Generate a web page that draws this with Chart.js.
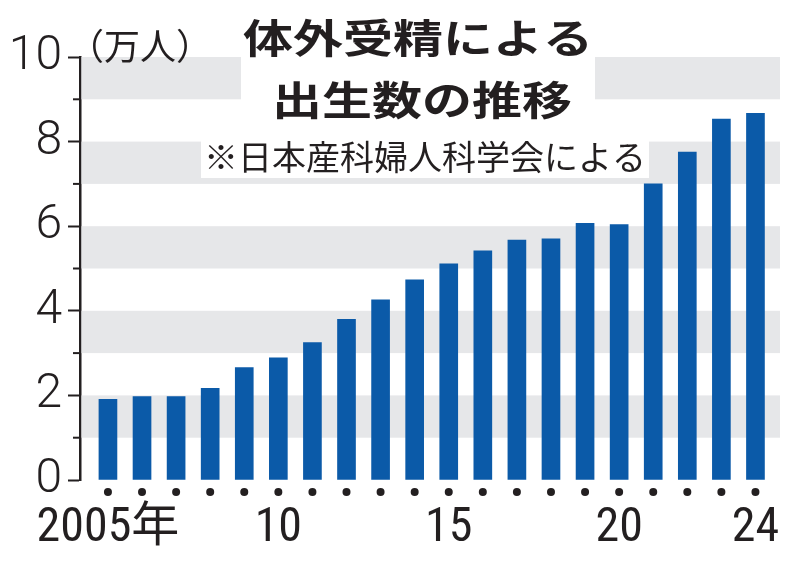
<!DOCTYPE html>
<html>
<head>
<meta charset="utf-8">
<script src="https://cdn.jsdelivr.net/npm/chart.js@4"></script>
<style>
html,body{margin:0;padding:0;background:#fff;}
#wrap{width:800px;height:564px;}
</style>
</head>
<body>
<div id="wrap"><canvas id="c" width="800" height="564"></canvas></div>
<script>
const years = [2005,2006,2007,2008,2009,2010,2011,2012,2013,2014,2015,2016,2017,2018,2019,2020,2021,2022,2023,2024];
const births = [1.91,1.97,1.97,2.17,2.66,2.89,3.25,3.80,4.26,4.73,5.11,5.42,5.67,5.70,6.07,6.04,7.00,7.75,8.53,8.67];
const xTickYears = [2005,2010,2015,2020,2024];
const xTickLabels = ['2005年','10','15','20','24'];
const yTickValues = [0,2,4,6,8,10];
const bandRanges = [[1,2],[3,4],[5,6],[7,8],[9,10]];
const titleLines = ['体外受精による','出生数の推移'];
const subtitle = '※日本産科婦人科学会による';
const unitLabel = '（万人）';

const INK = '#231f20';
const BLUE = '#0b5aa8';
const BAND = '#e6e7e9';

const decor = {
  id: 'decor',
  beforeDatasetsDraw(chart) {
    const {ctx, chartArea, scales} = chart;
    const y = scales.y, x = scales.x;
    ctx.save();
    ctx.fillStyle = BAND;
    bandRanges.forEach(([a, b]) => {
      const top = y.getPixelForValue(b), bot = y.getPixelForValue(a);
      ctx.fillRect(chartArea.left + 1.5, top, chartArea.right - chartArea.left - 1.5, bot - top);
    });
    ctx.strokeStyle = INK;
    ctx.lineWidth = 2;
    for (let v = 1; v < 10; v += 2) {
      const py = y.getPixelForValue(v);
      ctx.beginPath();
      ctx.moveTo(chartArea.left - 7, py);
      ctx.lineTo(chartArea.left, py);
      ctx.stroke();
    }
    ctx.fillStyle = INK;
    years.forEach(yr => {
      const px = x.getPixelForValue(yr);
      ctx.beginPath();
      ctx.arc(px, chartArea.bottom + 12, 4, 0, Math.PI * 2);
      ctx.fill();
    });
    ctx.restore();
  },
  afterDraw(chart) {
    const {ctx} = chart;
    ctx.save();
    const sx = 1.25;
    ctx.font = 'bold 40px "Noto Sans CJK JP"';
    const w1 = ctx.measureText(titleLines[0]).width * sx;
    const w2 = ctx.measureText(titleLines[1]).width * sx;
    const c1 = 418, c2 = 422;
    ctx.fillStyle = '#fff';
    const l = Math.min(c1 - w1 / 2, c2 - w2 / 2) - 2;
    const r = Math.max(c1 + w1 / 2, c2 + w2 / 2) + 2;
    ctx.fillRect(l, 14, r - l, 112);
    ctx.font = '34px "Noto Sans CJK JP"';
    const ws = ctx.measureText(subtitle).width;
    ctx.fillRect(425 - ws / 2 - 3, 138, ws + 6, 40);

    ctx.fillStyle = INK;
    ctx.textAlign = 'center';
    ctx.textBaseline = 'middle';
    ctx.font = 'bold 40px "Noto Sans CJK JP"';
    [[titleLines[0], c1, 38], [titleLines[1], c2, 100]].forEach(([t, cx, cy]) => {
      ctx.save();
      ctx.translate(cx, cy);
      ctx.scale(sx, 1);
      ctx.fillText(t, 0, 0);
      ctx.restore();
    });
    ctx.font = '34px "Noto Sans CJK JP"';
    ctx.fillText(subtitle, 425, 157);
    ctx.textAlign = 'left';
    ctx.font = '36px "Noto Sans CJK JP"';
    ctx.fillText(unitLabel, 68, 46);
    ctx.restore();
  }
};

new Chart(document.getElementById('c'), {
  type: 'bar',
  data: {
    datasets: [{
      data: years.map((yr, i) => ({x: yr, y: births[i]})),
      backgroundColor: BLUE,
      borderWidth: 0,
      barThickness: 18
    }]
  },
  options: {
    responsive: false,
    animation: false,
    events: [],
    layout: {padding: {top: 57, right: 20, left: 0, bottom: 0}},
    plugins: {legend: {display: false}, tooltip: {enabled: false}},
    scales: {
      x: {
        type: 'linear',
        offset: false,
        min: 2004.18,
        max: 2024.72,
        grid: {display: false, drawTicks: false, offset: false},
        border: {display: false},
        afterBuildTicks: s => { s.ticks = xTickYears.map(v => ({value: v})); },
        afterFit: s => { s.height = 84; },
        ticks: {
          autoSkip: false,
          maxRotation: 0,
          padding: 20,
          color: INK,
          font: {family: '"Liberation Sans Narrow", "Roboto Condensed", Roboto, "Noto Sans CJK JP"', size: 48},
          callback: v => { const i = xTickYears.indexOf(v); return i >= 0 ? xTickLabels[i] : ''; }
        }
      },
      y: {
        min: 0,
        max: 10,
        afterBuildTicks: s => { s.ticks = [0,1,2,3,4,5,6,7,8,9,10].map(v => ({value: v})); },
        afterFit: s => { s.width = 80; },
        grid: {
          display: true,
          drawOnChartArea: false,
          tickLength: 12,
          tickWidth: 2,
          tickColor: c => (c.tick && c.tick.value % 2 === 0) ? INK : 'rgba(0,0,0,0)'
        },
        border: {display: true, color: INK, width: 2.5},
        ticks: {
          padding: 6,
          color: INK,
          font: {family: 'Roboto, "Liberation Sans"', size: 48, weight: 300},
          callback: v => yTickValues.includes(v) ? String(v) : ''
        }
      }
    }
  },
  plugins: [decor]
});
</script>
</body>
</html>
